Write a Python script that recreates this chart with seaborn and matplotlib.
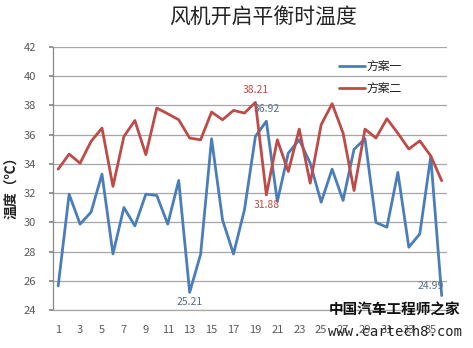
import matplotlib
matplotlib.use("Agg")
import matplotlib.pyplot as plt
import seaborn as sns
import pandas as pd

sns.set_theme(style="white")
plt.rcParams['font.family'] = ['Noto Sans CJK SC', 'DejaVu Sans']

title = "风机开启平衡时温度"
ylabel = "温度（℃）"
series_names = ["方案一", "方案二"]
x_vals = list(range(1, 37))
scheme1 = [25.65, 31.93, 29.88, 30.70, 33.30, 27.84, 31.02, 29.76, 31.93, 31.84,
           29.88, 32.87, 25.21, 27.82, 35.72, 30.17, 27.84, 30.86, 35.88, 36.92,
           31.43, 34.74, 35.65, 34.05, 31.38, 33.64, 31.50, 35.00, 35.72, 29.99,
           29.67, 33.42, 28.30, 29.21, 34.50, 24.99]
scheme2 = [33.64, 34.67, 34.05, 35.54, 36.45, 32.46, 35.88, 36.97, 34.63, 37.82,
           37.43, 37.02, 35.77, 35.65, 37.55, 37.02, 37.66, 37.48, 38.21, 31.88,
           35.65, 33.48, 36.38, 32.68, 36.68, 38.12, 36.11, 32.18, 36.38, 35.77,
           37.09, 36.10, 35.02, 35.58, 34.55, 32.85]
y_ticks = [24, 26, 28, 30, 32, 34, 36, 38, 40, 42]
x_ticks = list(range(1, 37, 2))

df = pd.DataFrame({
    "x": x_vals * 2,
    "温度": scheme1 + scheme2,
    "方案": [series_names[0]] * len(x_vals) + [series_names[1]] * len(x_vals),
})

blue = "#4A7EBB"
red = "#BE4B48"

fig = plt.figure(figsize=(4.73, 3.48), dpi=100)
ax = fig.add_axes([0.1114, 0.109, 0.834, 0.756])

sns.lineplot(data=df, x="x", y="温度", hue="方案", palette=[blue, red],
             linewidth=2.0, ax=ax, legend=True)

ax.set_xlim(0.5, 36.5)
ax.set_ylim(24, 42)
ax.set_yticks(y_ticks)
ax.set_xticks(x_ticks)
ax.set_yticklabels([str(t) for t in y_ticks])
ax.set_xticklabels([str(t) for t in x_ticks])
ax.yaxis.grid(True, color="#A6A6A6", linewidth=0.9)
ax.xaxis.grid(False)
for s in ["top", "right"]:
    ax.spines[s].set_visible(False)
ax.spines["left"].set_color("#888888")
ax.spines["bottom"].set_color("#A6A6A6")
ax.spines["left"].set_linewidth(0.9)
ax.spines["bottom"].set_linewidth(0.9)
ax.tick_params(axis="y", length=3, color="#888888", pad=9, labelsize=8, labelcolor="#595959", left=True)
ax.tick_params(axis="x", length=0, pad=11, labelsize=8, labelcolor="#595959", bottom=True)
ax.set_xlabel("")
ax.set_ylabel("")

fig.text(0.026, 0.47, ylabel, rotation=90, ha="center", va="center",
         fontsize=10, fontweight="bold", color="#222222")
fig.text(0.556, 0.948, title, ha="center", va="center", fontsize=15,
         fontweight="normal", color="#222222")

leg = ax.legend(loc="upper left", bbox_to_anchor=(0.70, 0.99), frameon=False,
                fontsize=8.5, handlelength=2.2, handletextpad=0.1,
                labelspacing=0.75)
for t in leg.get_texts():
    t.set_color("#222222")

# data labels
ax.annotate("38.21", (19, scheme2[18]), xytext=(0, 5), textcoords="offset points",
            ha="center", va="bottom", fontsize=7.5, color=red)
ax.annotate("36.92", (20, scheme1[19]), xytext=(0, 5), textcoords="offset points",
            ha="center", va="bottom", fontsize=7.5, color="#5A6E88")
ax.annotate("31.88", (20, scheme2[19]), xytext=(0, -4), textcoords="offset points",
            ha="center", va="top", fontsize=7.5, color=red)
ax.annotate("25.21", (13, scheme1[12]), xytext=(0, -3), textcoords="offset points",
            ha="center", va="top", fontsize=7.5, color="#5A6E88")
ax.annotate("24.99", (36, scheme1[35]), xytext=(-8, 3), textcoords="offset points",
            ha="center", va="bottom", fontsize=7.5, color="#5A6E88")

# watermark
fig.text(0.835, 0.109, "中国汽车工程师之家", ha="center", va="center",
         fontsize=10.5, fontweight="bold", color="#111111")
fig.text(0.835, 0.046, "www.cartech8.com", ha="center", va="center",
         fontsize=10, color="#222222", family=["DejaVu Sans Mono", "DejaVu Sans"])

fig.savefig("out.png", dpi=100)
